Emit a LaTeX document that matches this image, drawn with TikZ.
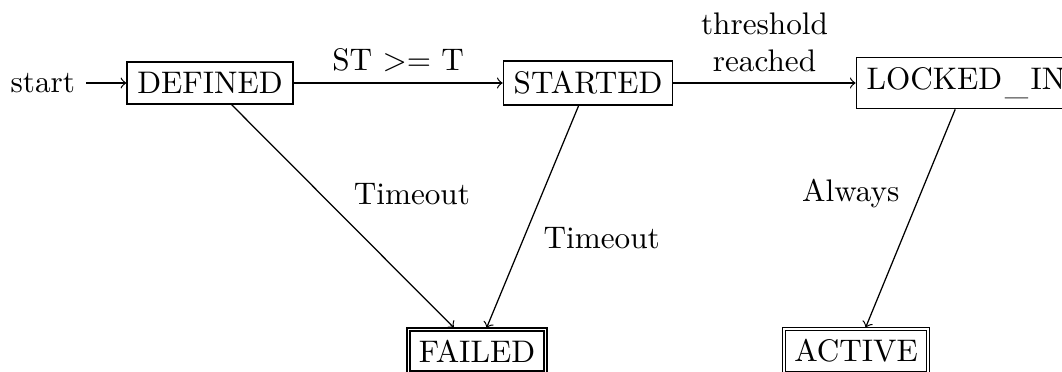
\documentclass[tikz,border=0pt]{standalone}
\usetikzlibrary{automata}
\begin{document}
\begin{tikzpicture}[x=0.3205pt,y=0.3205pt,
  every state/.style={rectangle,draw,minimum size=0pt,inner sep=0.3333em},
  initial text=start,
  lbl/.style={auto}]
\useasboundingbox (0,0) rectangle (1062,-371);
\clip (0,0) rectangle (1062,-371);
\node[state,initial] (defined) at (210,-83) {DEFINED};
\node[state] (started) at (588,-83) {STARTED};
\node[state] (locked) at (966,-83) {LOCKED\kern0.8pt\raisebox{-1.4pt}{\_}\kern0.8pt IN};
\node[state,accepting] (failed) at (477,-351) {FAILED};
\node[state,accepting] (active) at (856,-351) {ACTIVE};
\draw[->] (defined) -- node[lbl] {ST >= T} (started);
\draw[->] (started) -- node[lbl,align=center] {threshold\\reached} (locked);
\draw[->] (defined) -- node[lbl] {Timeout} (failed);
\draw[->] (started) -- node[lbl] {Timeout} (failed);
\draw[->] (locked) -- node[lbl,swap] {Always} (active);
\end{tikzpicture}
\end{document}
